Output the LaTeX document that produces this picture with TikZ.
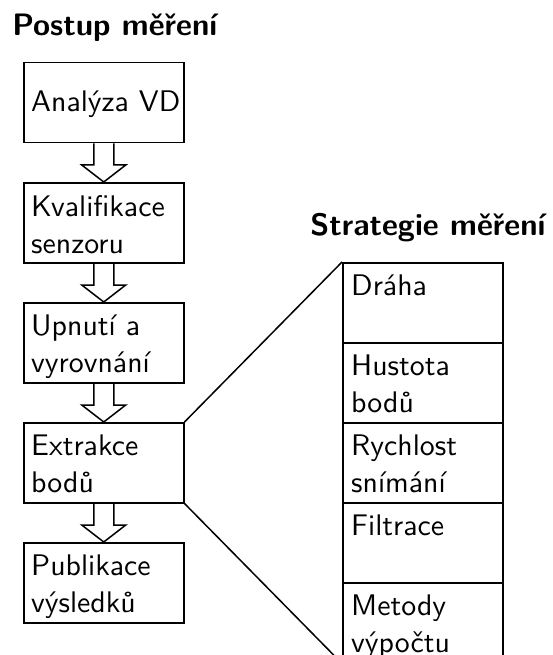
\documentclass[tikz,border=0pt]{standalone}
\usetikzlibrary{calc}
\begin{document}
\begin{tikzpicture}[x=1pt,y=-1pt,
  line width=1.5pt,
  boxst/.style={draw, rectangle, minimum width=160pt, minimum height=80pt, inner sep=0pt, anchor=north west},
  txt/.style={anchor=north west, inner sep=0pt, align=left, scale=2.98, transform shape, font=\sffamily\fontsize{10}{12.42}\selectfont},
  ttl/.style={anchor=base west, inner sep=0pt, scale=3.1, transform shape, font=\sffamily\bfseries\fontsize{10}{12.42}\selectfont},
  blk/.style={draw, line width=1.5pt, line join=miter}]
\useasboundingbox (0,0) rectangle (553,655);
\clip (0,0) rectangle (553,655);
\newcommand\blkarrow[2]{%
  \draw[blk] let \p1=(#1.south), \p2=(#2.north) in
    (\x1-10pt,\y1) -- (\x1-10pt,\y2+17pt) -- (\x1-22pt,\y2+17pt) -- (\x1,\y2)
    -- (\x1+22pt,\y2+17pt) -- (\x1+10pt,\y2+17pt) -- (\x1+10pt,\y1);}
% titles
\node[ttl] (t1) at (10,36) {Postup měření};
\node[ttl] (t2) at (308,235) {Strategie měření};
% left column
\node[boxst] (b1) at (23,62) {};
\node[boxst] (b2) at (23,182) {};
\node[boxst] (b3) at (23,302) {};
\node[boxst] (b4) at (23,422) {};
\node[boxst] (b5) at (23,542) {};
\node[txt] (l1) at ($(b1.north west)+(6,27)$) {Analýza VD};
\node[txt] (l2) at ($(b2.north west)+(6,11)$) {Kvalifikace\\senzoru};
\node[txt] (l3) at ($(b3.north west)+(6,11)$) {Upnutí a\\vyrovnání};
\node[txt] (l4) at ($(b4.north west)+(6,11)$) {Extrakce\\bodů};
\node[txt] (l5) at ($(b5.north west)+(6,11)$) {Publikace\\výsledků};
\blkarrow{b1}{b2}
\blkarrow{b2}{b3}
\blkarrow{b3}{b4}
\blkarrow{b4}{b5}
% right column
\node[boxst] (s1) at (342,262) {};
\node[boxst] (s2) at (342,342) {};
\node[boxst] (s3) at (342,422) {};
\node[boxst] (s4) at (342,502) {};
\node[boxst] (s5) at (342,582) {};
\node[txt] (r1) at ($(s1.north west)+(7,11)$) {Dráha};
\node[txt] (r2) at ($(s2.north west)+(7,11)$) {Hustota\\bodů};
\node[txt] (r3) at ($(s3.north west)+(7,11)$) {Rychlost\\snímání};
\node[txt] (r4) at ($(s4.north west)+(7,11)$) {Filtrace};
\node[txt] (r5) at ($(s5.north west)+(7,11)$) {Metody\\výpočtu};
% zoom lines
\draw (b4.north east) -- (s1.north west);
\draw (b4.south east) -- (s5.south west);
\end{tikzpicture}
\end{document}
